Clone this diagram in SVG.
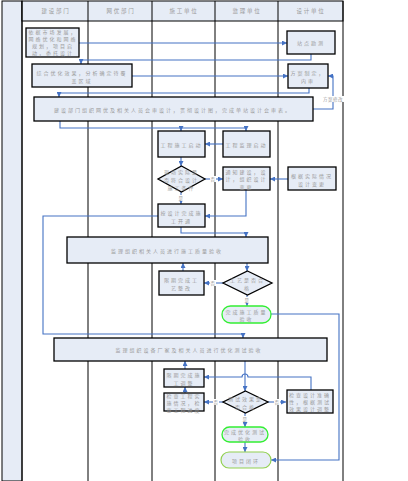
<svg xmlns="http://www.w3.org/2000/svg" width="408" height="481" viewBox="0 0 408 481">
<style>
text{font-family:"Noto Sans CJK SC","Liberation Sans",sans-serif;fill:#9a9a9a;font-size:5px;letter-spacing:2px;text-anchor:middle;dominant-baseline:central}
.hd{font-size:5.5px;letter-spacing:1.8px}
.box{fill:#e6ecf6;stroke:#000;stroke-width:1.3}
.end{fill:#e6ecf6;stroke:#33ee33;stroke-width:1.3}
.end2{fill:#e6ecf6;stroke:#92d050;stroke-width:1.2}
.grid{stroke:#000;stroke-width:1;fill:none}
.c{fill:none;stroke:#4472c4;stroke-width:1.1}
.a{marker-end:url(#ar)}
.lb{font-size:4.5px;letter-spacing:0.5px}
.lbg{fill:#fff}
</style>
<defs>
<marker id="ar" markerUnits="userSpaceOnUse" markerWidth="5" markerHeight="5" viewBox="0 0 6 6" refX="6" refY="3" orient="auto">
<path d="M0,0 L6,3 L0,6 z" fill="#4472c4"/>
</marker>
</defs>
<g id="frame">
<rect x="0" y="0" width="408" height="481" fill="#fff"/>
<rect x="2" y="1" width="20" height="480" fill="#e6ecf6" stroke="#000"/>
<rect x="22" y="1" width="321" height="20" fill="#e6ecf6" stroke="#000"/>
<path class="grid" d="M22,1V481M88,1V481M152,1V481M215,1V481M278,1V481M343,1V481"/>
<text class="hd" x="56" y="11">建设部门</text>
<text class="hd" x="121" y="11">网优部门</text>
<text class="hd" x="184" y="11">施工单位</text>
<text class="hd" x="247" y="11">监理单位</text>
<text class="hd" x="311" y="11">设计单位</text>
</g>
<g id="connectors">
<path class="c a" d="M79,43H287"/>
<path class="c a" d="M311,54V60H81V64"/>
<path class="c a" d="M132,76H288"/>
<path class="c a" d="M309,88V93H59V97"/>
<path class="c a" d="M313,109H333V76H328"/>
<path class="c a" d="M60,121V128H246V131"/>
<path class="c a" d="M181,128V131"/>
<path class="c a" d="M223,144H205"/>
<path class="c a" d="M181,157V166"/>
<path class="c a" d="M205,179H223"/>
<path class="c a" d="M181,192V204"/>
<path class="c a" d="M288,179H270"/>
<path class="c a" d="M246,190V216H205"/>
<path class="c a" d="M181,227V233H246V237"/>
<path class="c a" d="M158,216H43V334H243V338"/>
<path class="c a" d="M247,263V271"/>
<path class="c a" d="M223,283H204"/>
<path class="c a" d="M183,271V263"/>
<path class="c a" d="M247,295V306"/>
<path class="c a" d="M271,314H339V460H271"/>
<path class="c a" d="M245,361V391"/>
<path class="c a" d="M311,390V377H248A3,3 0 0 0 242,377H204"/>
<path class="c a" d="M185,369V361"/>
<path class="c a" d="M185,393V387"/>
<path class="c a" d="M223,402H204"/>
<path class="c a" d="M268,402H286"/>
<path class="c a" d="M245,413V427"/>
<path class="c a" d="M245,442V452"/>
<rect class="lbg" x="322" y="96" width="22" height="6"/>
<text class="lb" x="333" y="99">方案修改</text>
<rect class="lbg" x="210" y="176" width="6" height="6"/>
<text class="lb" x="213" y="179">否</text>
<rect class="lbg" x="178" y="195" width="6" height="6"/>
<text class="lb" x="181" y="198">是</text>
<rect class="lbg" x="210" y="280" width="6" height="6"/>
<text class="lb" x="213" y="283">否</text>
<rect class="lbg" x="244" y="297" width="6" height="6"/>
<text class="lb" x="247" y="300">是</text>
<rect class="lbg" x="213" y="399" width="6" height="6"/>
<text class="lb" x="216" y="402">否</text>
<rect class="lbg" x="274" y="399" width="6" height="6"/>
<text class="lb" x="277" y="402">否</text>
<rect class="lbg" x="242" y="416" width="6" height="6"/>
<text class="lb" x="245" y="419">是</text>
</g>
<g id="n1"><rect class="box" x="26" y="28" width="53" height="29"/>
<text x="53" y="31.5">依据市场发展，</text><text x="53" y="38.5">网络优化和网络</text><text x="53" y="45.5">规划，项目启</text><text x="53" y="52.5">动，委托设计</text></g>
<g id="n2"><rect class="box" x="287" y="31" width="48" height="23"/><text x="311" y="42.5">站点勘测</text></g>
<g id="n3"><rect class="box" x="32" y="64" width="100" height="23"/>
<text x="82" y="72">综合优化效果，分析确定待覆</text><text x="82" y="80">盖区域</text></g>
<g id="n4"><rect class="box" x="288" y="64" width="40" height="24"/>
<text x="308" y="72">方案制定，</text><text x="308" y="80">内审</text></g>
<g id="n5"><rect class="box" x="34" y="97" width="279" height="24"/>
<text x="173" y="109">建设部门组织网优及相关人员会审设计，贯彻设计图，完成单站设计会审表。</text></g>
<g id="n6"><rect class="box" x="158" y="131" width="47" height="26"/><text x="181.5" y="144">工程施工启动</text></g>
<g id="n7"><rect class="box" x="223" y="131" width="47" height="26"/><text x="246.5" y="144">工程监理启动</text></g>
<g id="n8"><path class="box" d="M181.5,166L205,179L181.5,192L158,179z"/>
<text x="181.5" y="171">现场实际是</text><text x="181.5" y="179">否符合设计</text><text x="181.5" y="187">施工条件</text></g>
<g id="n9"><rect class="box" x="223" y="167" width="47" height="23"/>
<text x="246.5" y="171">通知建设，设</text><text x="246.5" y="178.5">计，组织设计</text><text x="246.5" y="186">变更</text></g>
<g id="n10"><rect class="box" x="288" y="167" width="48" height="23"/>
<text x="312" y="175">根据实际情况</text><text x="312" y="183">设计变更</text></g>
<g id="n11"><rect class="box" x="158" y="204" width="47" height="23"/>
<text x="181.5" y="212">按设计完成施</text><text x="181.5" y="220">工开通</text></g>
<g id="n12"><rect class="box" x="67" y="237" width="201" height="26"/>
<text x="167" y="250">监理组织相关人员进行施工质量验收</text></g>
<g id="n13"><path class="box" d="M247.5,271L272,283L247.5,295L223,283z"/>
<text x="247.5" y="279.5">工艺是否合</text><text x="247.5" y="287">格</text></g>
<g id="n14"><rect class="box" x="159" y="271" width="45" height="24"/>
<text x="181.5" y="279">限期完成工</text><text x="181.5" y="287">艺整改</text></g>
<g id="n15"><rect class="end" x="222" y="306" width="49" height="17" rx="8.5"/>
<text x="246.5" y="311">完成施工质量</text><text x="246.5" y="318.5">验收</text></g>
<g id="n16"><rect class="box" x="54" y="338" width="273" height="23"/>
<text x="189" y="349.5">监理组织设备厂家及相关人员进行优化测试验收</text></g>
<g id="n17"><path class="box" d="M245.5,391L268,402L245.5,413L223,402z"/>
<text x="245.5" y="398.5">测试效果是</text><text x="245.5" y="406">否合格</text></g>
<g id="n18"><rect class="box" x="164" y="369" width="40" height="18"/>
<text x="184" y="374">限期完成施</text><text x="184" y="382">工调整</text></g>
<g id="n19"><rect class="box" x="164" y="393" width="40" height="18"/>
<text x="184" y="395">检查工程实</text><text x="184" y="402">施情况，检</text><text x="184" y="409">查工程进度</text></g>
<g id="n20"><rect class="box" x="287" y="390" width="46" height="23"/>
<text x="310" y="394.5">检查设计准确</text><text x="310" y="401.5">性，根据测试</text><text x="310" y="408.5">效果设计调整</text></g>
<g id="n21"><rect class="end" x="222" y="427" width="46" height="15" rx="7.5"/>
<text x="245" y="431.5">完成优化测试</text><text x="245" y="438">验收</text></g>
<g id="n22"><rect class="end2" x="221" y="452" width="50" height="16" rx="8"/>
<text x="246" y="460">项目闭环</text></g>
</svg>
